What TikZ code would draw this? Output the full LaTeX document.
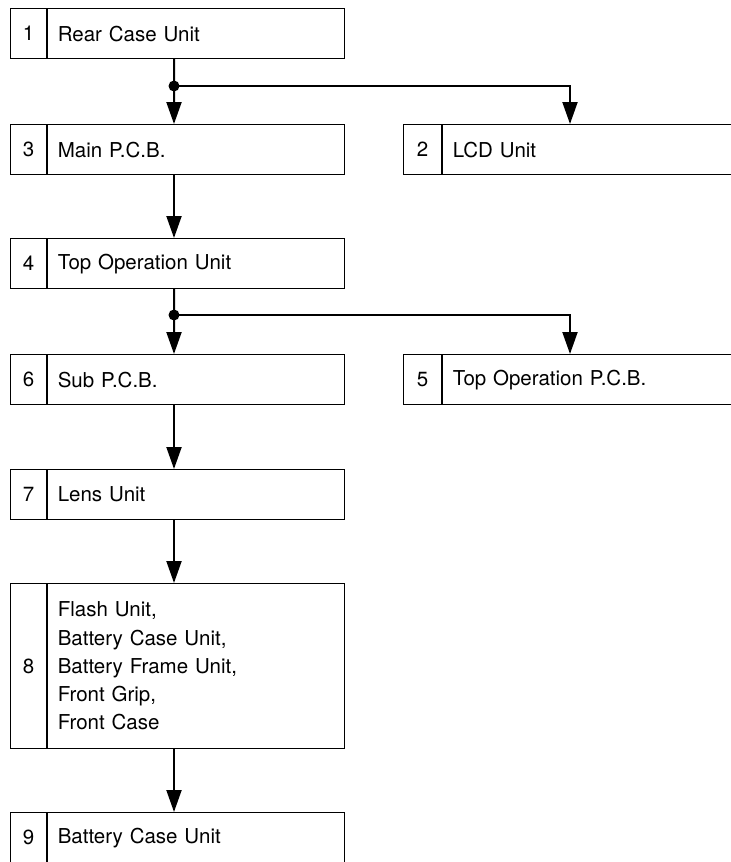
\documentclass[tikz,border=0pt]{standalone}
\usepackage{fontspec}
\setmainfont{TeX Gyre Heros}
\usetikzlibrary{arrows.meta, positioning}

\begin{document}
\begin{tikzpicture}[
        x=1bp, y=-1bp,
        every node/.style={font=\fontsize{20.5bp}{28.3bp}\selectfont},
        numcell/.style={draw, line width=1.2bp, minimum width=36bp, minimum height=50bp, anchor=north west, inner sep=0pt},
        namecell/.style={draw, line width=1.2bp, minimum width=297bp, minimum height=50bp, text width=277bp, inner xsep=10bp, align=left, right=0pt of #1},
        widecell/.style={namecell=#1, minimum width=400bp, text width=380bp},
        link/.style={line width=2bp},
        arrow/.style={-{Triangle[length=22bp, width=15bp]}, line width=2bp},
        joint/.style={circle, fill, inner sep=0pt, minimum size=11bp}
    ]
        \clip (0,0) rectangle (731,862);

        % --- left column ---
        \node[numcell] (n1) at (10,8) {1};
        \node[namecell=n1] (u1) {Rear Case Unit};
        \node[numcell] (n3) at (10,124) {3};
        \node[namecell=n3] (u3) {Main P.C.B.};
        \node[numcell] (n4) at (10,238) {4};
        \node[namecell=n4] (u4) {Top Operation Unit};
        \node[numcell] (n6) at (10,354) {6};
        \node[namecell=n6] (u6) {Sub P.C.B.};
        \node[numcell] (n7) at (10,469) {7};
        \node[namecell=n7] (u7) {Lens Unit};
        \node[numcell, minimum height=165bp] (n8) at (10,583) {8};
        \node[namecell=n8, minimum height=165bp] (u8) {Flash Unit,\\Battery Case Unit,\\Battery Frame Unit,\\Front Grip,\\Front Case};
        \node[numcell] (n9) at (10,812) {9};
        \node[namecell=n9] (u9) {Battery Case Unit};

        % --- right column (runs off the page) ---
        \node[numcell, minimum width=38bp] (n2) at (403,124) {2};
        \node[widecell=n2] (u2) {LCD Unit};
        \node[numcell, minimum width=38bp] (n5) at (403,354) {5};
        \node[widecell=n5] (u5) {Top Operation P.C.B.};

        % branch points
        \node[joint] (j1) at (174,86) {};
        \node[joint] (j2) at (174,315) {};

        % connectors
        \draw[link] ([xshift=164bp]n1.south west) -- (j1.center);
        \draw[arrow] (j1.center) -- ([xshift=164bp]n3.north west);
        \draw[arrow] (j1.center) -| ([xshift=167bp]n2.north west);
        \draw[arrow] ([xshift=164bp]n3.south west) -- ([xshift=164bp]n4.north west);
        \draw[link] ([xshift=164bp]n4.south west) -- (j2.center);
        \draw[arrow] (j2.center) -- ([xshift=164bp]n6.north west);
        \draw[arrow] (j2.center) -| ([xshift=167bp]n5.north west);
        \draw[arrow] ([xshift=164bp]n6.south west) -- ([xshift=164bp]n7.north west);
        \draw[arrow] ([xshift=164bp]n7.south west) -- ([xshift=164bp]n8.north west);
        \draw[arrow] ([xshift=164bp]n8.south west) -- ([xshift=164bp]n9.north west);
    \end{tikzpicture}
\end{document}
